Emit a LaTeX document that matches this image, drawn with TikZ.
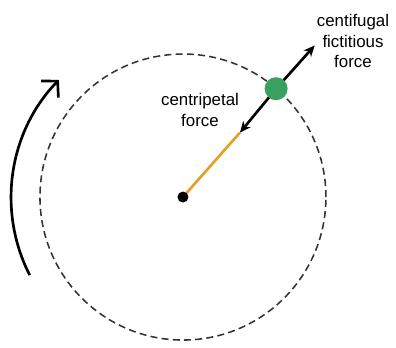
\documentclass[tikz,border=0pt]{standalone}
\usepackage{fontspec}
\setmainfont{Liberation Sans}
\usetikzlibrary{arrows.meta,calc}
\definecolor{massgreen}{RGB}{58,160,95}
\definecolor{stringorange}{RGB}{228,160,40}

\begin{document}
\begin{tikzpicture}[scale=0.025]
\useasboundingbox (0,0) rectangle (396,347);
\coordinate (O) at (183,150);
\coordinate (M) at ($(O)+(49.3:143)$);
\coordinate (Out) at ($(O)+(49:201)$);
\coordinate (In) at ($(O)+(48.5:86)$);
\draw[black!80,line width=1.1pt,dash pattern=on 5pt off 3pt] (O) circle (143);
\draw[stringorange,line width=1.9pt] (O)--(In);
\draw[line width=1.9pt,-{Stealth[length=8pt,width=7pt]}] (M)--(Out);
\draw[line width=1.9pt,-{Stealth[length=8pt,width=7pt]}] (M)--(In);
\fill[massgreen] (M) circle (11.5);
\fill (O) circle (5.5);
% direction of rotation
\draw[line width=1.9pt,-{Straight Barb[length=8pt,width=17pt,line width=1.9pt]}] ($(O)+(207:172)$) arc[start angle=207,end angle=136,radius=170];
\node[align=center,font=\fontsize{12}{14.5}\selectfont] (cf) at (353,306) {centifugal\\fictitious\\force};
\node[align=center,font=\fontsize{12}{14.5}\selectfont] (cp) at (200,237) {centripetal\\force};
\end{tikzpicture}
\end{document}
